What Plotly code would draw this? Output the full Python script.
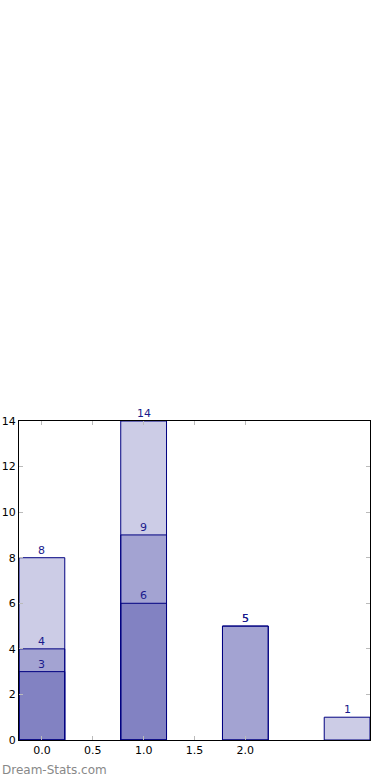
import plotly.graph_objects as go

positions = [0, 1, 2, 3]
layer_a = [3, 6, 5, None]
layer_b = [4, 9, 5, None]
layer_c = [8, 14, None, 1]
x_ticks = [0, 0.5, 1, 1.5, 2]
x_tick_labels = ["0.0", "0.5", "1.0", "1.5", "2.0"]
y_ticks = [0, 2, 4, 6, 8, 10, 12, 14]

fill = "rgba(0,0,128,0.2)"
edge = "#000080"

fig = go.Figure()
for layer in [layer_c, layer_b, layer_a]:
    fig.add_trace(go.Bar(
        x=positions, y=layer, width=0.45,
        marker=dict(color=fill, line=dict(color=edge, width=1)),
        hoverinfo="skip", showlegend=False,
    ))

annotations = []
for layer in [layer_a, layer_b, layer_c]:
    for p, v in zip(positions, layer):
        if v is None:
            continue
        annotations.append(dict(
            x=p, y=v, xref="x", yref="y", text=str(v), showarrow=False,
            xanchor="center", yanchor="bottom", yshift=-1,
            font=dict(color="#1a1a8c", size=11, family="DejaVu Sans"),
        ))
annotations.append(dict(text="Dream-Stats.com", xref="paper", yref="paper",
                        x=-19/351, y=-30/319, xanchor="left", yanchor="middle",
                        showarrow=False,
                        font=dict(family="DejaVu Sans", size=12, color="#888888")))

fig.update_layout(
    barmode="overlay",
    width=390, height=780,
    margin=dict(l=19, r=20, t=421, b=40),
    plot_bgcolor="white", paper_bgcolor="white",
    font=dict(family="DejaVu Sans", size=11, color="black"),
    xaxis=dict(range=[-0.225, 3.225], tickvals=x_ticks, ticktext=x_tick_labels,
               showgrid=False, zeroline=False, showline=True, linecolor="black",
               linewidth=1, mirror="ticks", ticks="inside", ticklen=4,
               tickcolor="#bbbbbb", tickwidth=1, automargin=False),
    yaxis=dict(range=[0, 14], tickvals=y_ticks, showgrid=False, zeroline=False,
               showline=True, linecolor="black", linewidth=1, mirror="ticks",
               ticks="inside", ticklen=4, tickcolor="#bbbbbb", tickwidth=1,
               automargin=False),
    annotations=annotations,
)

fig.write_html("out.html", config={"displayModeBar": False},
               post_script="document.body.style.margin='0';")
